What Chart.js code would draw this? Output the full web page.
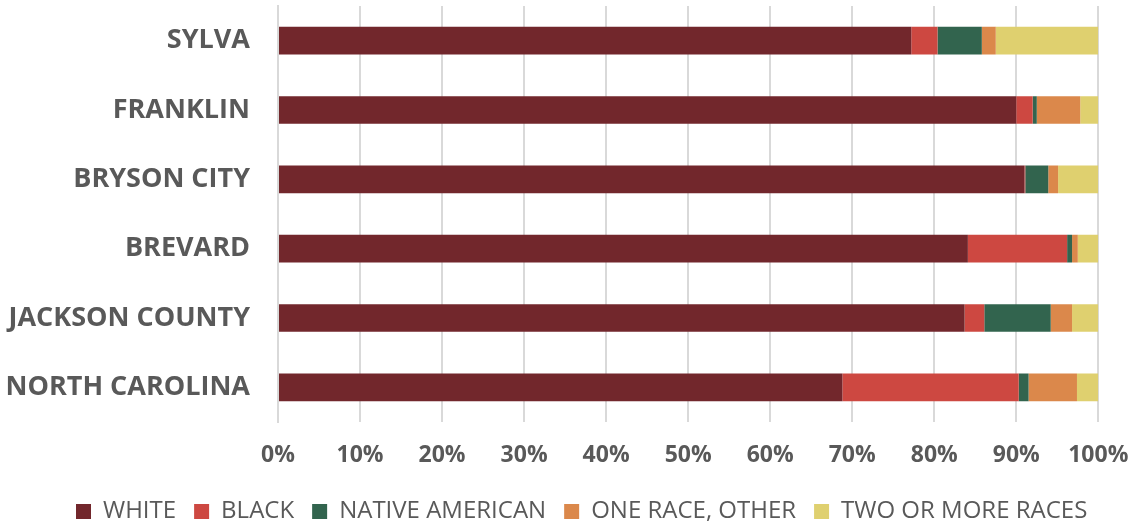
<!DOCTYPE html>
<html>
<head>
<meta charset="utf-8">
<script src="https://cdn.jsdelivr.net/npm/chart.js@4/dist/chart.umd.min.js"></script>
<style>
  html, body { margin: 0; padding: 0; background: #fff; }
  #wrap { width: 1135px; height: 529px; }
</style>
</head>
<body>
<div id="wrap"><canvas id="myChart" width="1135" height="529"></canvas></div>
<script>
"use strict";
const places = ["SYLVA", "FRANKLIN", "BRYSON CITY", "BREVARD", "JACKSON COUNTY", "NORTH CAROLINA"];
const white = [77.2, 90.0, 91.0, 84.1, 83.7, 68.8];
const black = [3.2, 2.0, 0.1, 12.1, 2.4, 21.5];
const nativeAmerican = [5.4, 0.5, 2.8, 0.6, 8.1, 1.2];
const oneRaceOther = [1.7, 5.3, 1.2, 0.7, 2.6, 5.9];
const twoOrMore = [12.5, 2.2, 4.9, 2.5, 3.2, 2.6];
const xTicks = [0, 10, 20, 30, 40, 50, 60, 70, 80, 90, 100];

const gray = "#595959";
const gridGray = "#d9d9d9";
const legendShift = 58;

const makeSet = (label, data, color) => ({
  label,
  data,
  backgroundColor: color,
  borderWidth: 0,
  categoryPercentage: 0.8,
  barPercentage: 0.5,
});

// nudge the legend row to the right, like the original layout
const legendNudge = {
  id: "legendNudge",
  afterLayout(chart) {
    chart.legend.left += legendShift;
    chart.legend.right += legendShift;
  },
};

const createChart = () => {
  const ctx = document.getElementById("myChart").getContext("2d");
  new Chart(ctx, {
    type: "bar",
    data: {
      labels: places,
      datasets: [
        makeSet("WHITE", white, "#72272c"),
        makeSet("BLACK", black, "#cd4841"),
        makeSet("NATIVE AMERICAN", nativeAmerican, "#32644e"),
        makeSet("ONE RACE, OTHER", oneRaceOther, "#db884b"),
        makeSet("TWO OR MORE RACES", twoOrMore, "#dfd06f"),
      ],
    },
    plugins: [legendNudge],
    options: {
      indexAxis: "y",
      responsive: false,
      animation: false,
      layout: { padding: { top: 6, right: 36.7, bottom: -4.6, left: 0 } },
      plugins: {
        tooltip: { enabled: false },
        legend: {
          position: "bottom",
          align: "start",
          labels: {
            color: gray,
            font: { family: "'Open Sans'", size: 24 },
            boxWidth: 15,
            boxHeight: 15,
            padding: 18,
          },
        },
      },
      scales: {
        x: {
          stacked: true,
          min: 0,
          max: 100,
          afterBuildTicks: (scale) => {
            scale.ticks = xTicks.map((v) => ({ value: v }));
          },
          afterFit: (scale) => {
            scale.height = 59.6;
            scale.paddingLeft = 0;
            scale.paddingRight = 0;
          },
          grid: { color: gridGray, lineWidth: 2, drawTicks: false },
          border: { display: false },
          ticks: {
            color: gray,
            padding: 20,
            maxRotation: 0,
            font: { family: "'Open Sans'", size: 23, weight: "bold" },
            callback: (v) => v + "%",
          },
        },
        y: {
          stacked: true,
          afterFit: (scale) => {
            scale.width = 278;
            scale.paddingTop = 0;
            scale.paddingBottom = 0;
          },
          grid: { display: false, drawTicks: false },
          border: { display: true, color: gridGray, width: 2 },
          ticks: {
            color: gray,
            padding: 28,
            font: { family: "'Open Sans'", size: 27, weight: "bold" },
          },
        },
      },
    },
  });
};

createChart();
</script>
</body>
</html>
